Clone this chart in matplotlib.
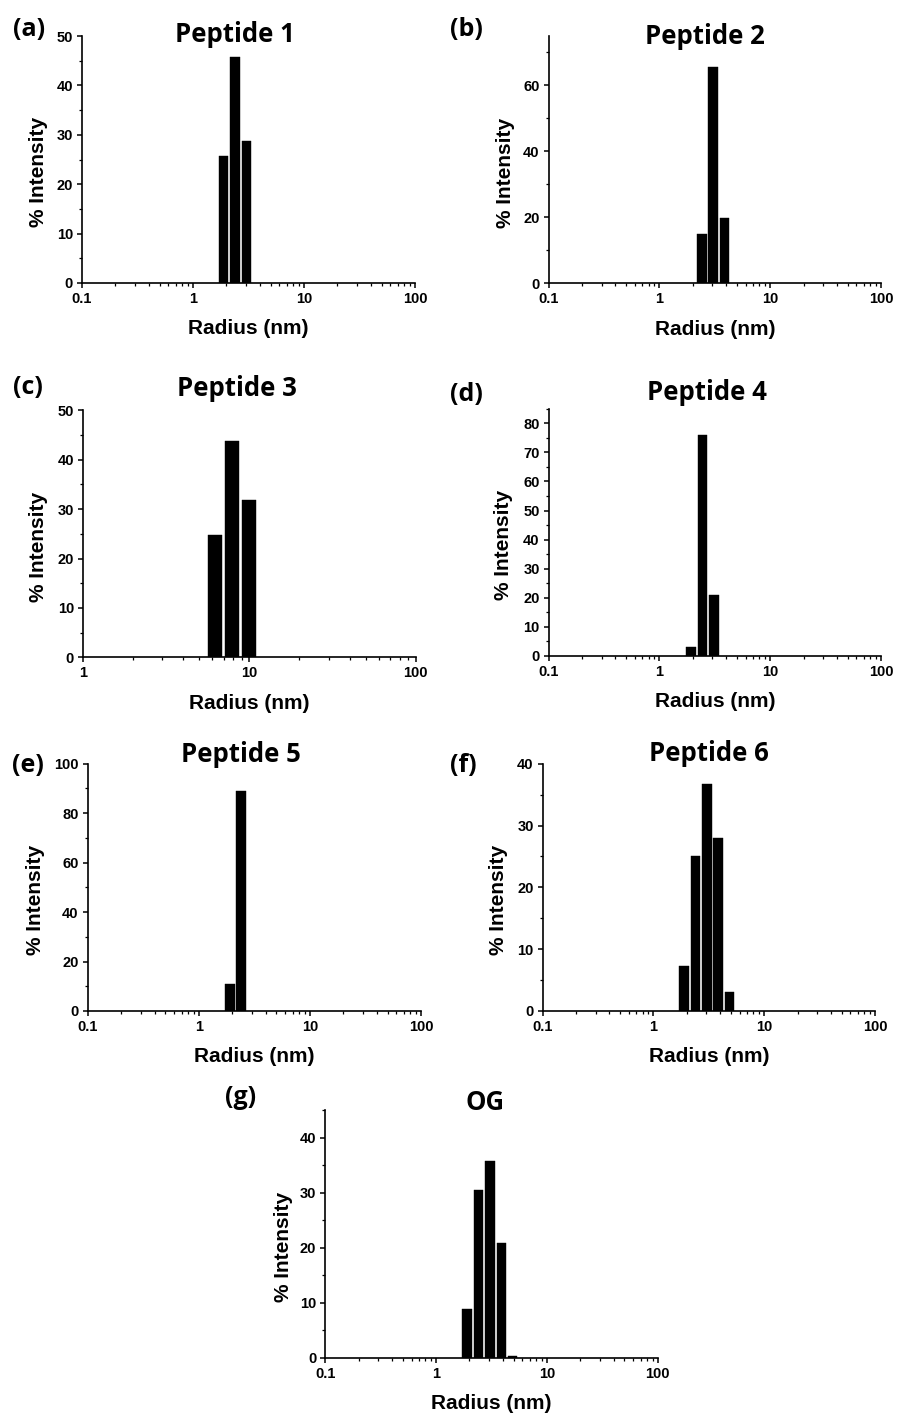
import numpy as np
import matplotlib
matplotlib.use("Agg")
import matplotlib.pyplot as plt
from matplotlib.ticker import MultipleLocator, LogLocator, NullFormatter, FixedLocator, FixedFormatter

# DLS size distributions (bin centre radius in nm, % intensity)
radius_1 = [1.89, 2.40, 3.02]
intensity_1 = [25.7, 45.8, 28.7]

radius_2 = [2.41, 3.05, 3.86]
intensity_2 = [14.8, 65.5, 19.8]

radius_3 = [6.22, 7.90, 9.99]
intensity_3 = [24.7, 43.7, 31.8]

radius_4 = [1.92, 2.44, 3.11]
intensity_4 = [3.0, 75.9, 20.9]

radius_5 = [1.90, 2.41]
intensity_5 = [10.9, 88.8]

radius_6 = [1.89, 2.40, 3.03, 3.84, 4.86]
intensity_6 = [7.3, 25.0, 36.7, 28.0, 3.0]

radius_og = [1.90, 2.41, 3.06, 3.88, 4.90]
intensity_og = [8.8, 30.5, 35.8, 20.8, 0.3]

titles = ["Peptide 1", "Peptide 2", "Peptide 3", "Peptide 4", "Peptide 5", "Peptide 6", "OG"]
letters = ["(a)", "(b)", "(c)", "(d)", "(e)", "(f)", "(g)"]

W, H = 897, 1416
BAR_DEC = 0.086  # bar width in decades
tick_font = dict(family="Liberation Sans", weight="bold", size=10.5)
label_font = dict(family="Liberation Sans", weight="bold", size=15)
title_font = dict(family="Open Sans", weight="bold", size=18.5)

fig = plt.figure(figsize=(W / 100, H / 100), dpi=100)


def box(x0, x1, ytop, ybot):
    return [x0 / W, 1 - ybot / H, (x1 - x0) / W, (ybot - ytop) / H]


# data, box, xlim, ymax, y major, y minor, ylabel x, letter pos, title pos
panels = [
    (radius_1, intensity_1, box(82, 415, 36, 283), (0.1, 100), 50, 10, 5, -0.132, (29, 30), (235, 34)),
    (radius_2, intensity_2, box(548.7, 881, 36, 283.3), (0.1, 100), 75, 20, 10, -0.131, (466, 30), (705, 37)),
    (radius_3, intensity_3, box(83, 415.7, 410.3, 657.3), (1, 100), 50, 10, 5, -0.135, (28, 388), (237, 389)),
    (radius_4, intensity_4, box(548.7, 881, 408.7, 656), (0.1, 100), 85, 10, 5, -0.1375, (466, 394), (707, 393)),
    (radius_5, intensity_5, box(87.7, 421, 763.7, 1011), (0.1, 100), 100, 20, 10, -0.158, (28, 765), (241, 755)),
    (radius_6, intensity_6, box(542.7, 875, 763.7, 1011), (0.1, 100), 40, 10, 5, -0.134, (463, 765), (709, 754)),
    (radius_og, intensity_og, box(325.3, 657.7, 1110, 1357.7), (0.1, 100), 45, 10, 5, -0.126, (241, 1098), (485, 1102)),
]

for i, (r, h, rect, xlim, ymax, ymaj, ymin, ylx, lpos, tpos) in enumerate(panels):
    ax = fig.add_axes(rect)
    r = np.array(r)
    left = r * 10 ** (-BAR_DEC / 2)
    width = r * 10 ** (BAR_DEC / 2) - left
    ax.bar(left, h, width=width, align="edge", color="black", edgecolor="black", linewidth=0.3)

    ax.set_xscale("log")
    ax.set_xlim(*xlim)
    ax.set_ylim(0, ymax)
    majors = [v for v in [0.1, 1, 10, 100] if xlim[0] <= v <= xlim[1]]
    ax.xaxis.set_major_locator(FixedLocator(majors))
    ax.xaxis.set_major_formatter(FixedFormatter([f"{v:g}" for v in majors]))
    ax.xaxis.set_minor_locator(LogLocator(base=10, subs=np.arange(2, 10)))
    ax.xaxis.set_minor_formatter(NullFormatter())
    ax.yaxis.set_major_locator(MultipleLocator(ymaj))
    ax.yaxis.set_minor_locator(MultipleLocator(ymin))

    for s in ["top", "right"]:
        ax.spines[s].set_visible(False)
    for s in ["left", "bottom"]:
        ax.spines[s].set_linewidth(1.2)
    ax.tick_params(which="major", direction="out", length=3.5, width=1.1, pad=3)
    ax.tick_params(which="minor", direction="out", length=2, width=0.9)
    for lab in ax.get_xticklabels() + ax.get_yticklabels():
        lab.set_fontfamily(tick_font["family"])
        lab.set_fontweight(tick_font["weight"])
        lab.set_fontsize(tick_font["size"])

    ax.set_xlabel("Radius (nm)", **label_font)
    ax.set_ylabel("% Intensity", **label_font)
    ax.xaxis.label.set_va("center")
    ax.yaxis.label.set_va("center")
    ax.xaxis.set_label_coords(0.5, -0.186)
    ax.yaxis.set_label_coords(ylx, 0.448)

    fig.text(lpos[0] / W, 1 - lpos[1] / H, letters[i], ha="center", va="center",
             family="Open Sans", weight="bold", size=18)
    fig.text(tpos[0] / W, 1 - tpos[1] / H, titles[i], ha="center", va="center", **title_font)

fig.savefig("out.png", dpi=100)
